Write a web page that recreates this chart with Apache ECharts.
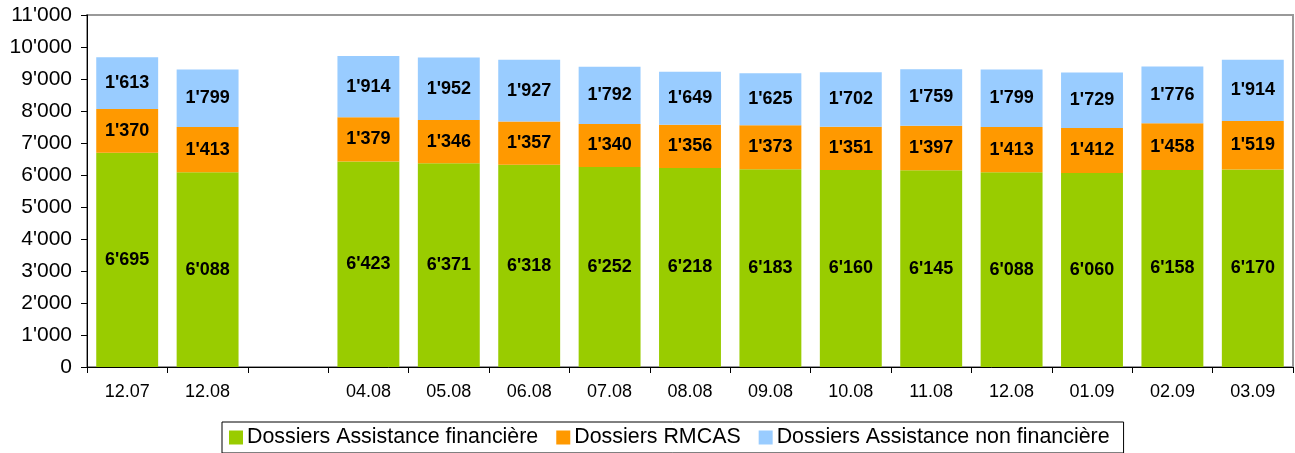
<!DOCTYPE html>
<html>
  <head>
    <meta charset="UTF-8" />
    <title>Dossiers</title>
    <style>
      html,
      body {
        margin: 0;
        padding: 0;
        background: #fff;
      }
      #main {
        width: 1295px;
        height: 453px;
      }
    </style>
    <script src="https://cdn.jsdelivr.net/npm/echarts@6/dist/echarts.min.js"></script>
  </head>
  <body>
    <div id="main"></div>
    <script>
      var categories = ["12.07", "12.08", "", "04.08", "05.08", "06.08", "07.08", "08.08", "09.08", "10.08", "11.08", "12.08", "01.09", "02.09", "03.09"];
      var financiere = [6695, 6088, null, 6423, 6371, 6318, 6252, 6218, 6183, 6160, 6145, 6088, 6060, 6158, 6170];
      var rmcas = [1370, 1413, null, 1379, 1346, 1357, 1340, 1356, 1373, 1351, 1397, 1413, 1412, 1458, 1519];
      var nonFinanciere = [1613, 1799, null, 1914, 1952, 1927, 1792, 1649, 1625, 1702, 1759, 1799, 1729, 1776, 1914];

      function fmt(v) {
        return String(v).replace(/\B(?=(\d{3})+(?!\d))/g, "'");
      }

      var myChart = echarts.init(document.getElementById("main"));

      var label = {
        show: true,
        position: "inside",
        color: "#000",
        fontFamily: "Liberation Sans, Arial",
        fontWeight: "bold",
        fontSize: 18,
        formatter: function (p) {
          return fmt(p.value);
        },
      };

      function bar(name, data, color) {
        return {
          name: name,
          type: "bar",
          stack: "total",
          data: data,
          barCategoryGap: "23%",
          itemStyle: { color: color },
          label: label,
        };
      }

      var option = {
        animation: false,
        textStyle: { fontFamily: "Liberation Sans, Arial" },
        grid: {
          left: 87,
          right: 2,
          top: 15,
          bottom: 86,
          show: true,
          borderColor: "#999",
          borderWidth: 2,
        },
        legend: {
          bottom: 0,
          left: 222,
          itemWidth: 14,
          itemHeight: 14,
          itemGap: 18,
          padding: [5, 14, 5, 7],
          borderColor: "#000",
          borderWidth: 1,
          textStyle: { fontSize: 21.4, color: "#000", padding: [0, 0, 0, -1] },
          icon: "rect",
        },
        xAxis: {
          type: "category",
          data: categories,
          axisLine: { lineStyle: { color: "#000", width: 1 } },
          axisTick: { show: true, length: 6, lineStyle: { color: "#000" } },
          axisLabel: { color: "#000", fontSize: 18, margin: 16 },
        },
        yAxis: {
          type: "value",
          min: 0,
          max: 11000,
          interval: 1000,
          splitLine: { show: false },
          axisLine: { show: true, lineStyle: { color: "#000", width: 1 } },
          axisTick: { show: true, length: 6, inside: false, lineStyle: { color: "#000" } },
          axisLabel: { color: "#000", fontSize: 21, margin: 15, formatter: fmt },
        },
        series: [
          bar("Dossiers Assistance financière", financiere, "#99CC00"),
          bar("Dossiers RMCAS", rmcas, "#FF9900"),
          bar("Dossiers Assistance non financière", nonFinanciere, "#99CCFF"),
        ],
      };

      myChart.setOption(option);
    </script>
  </body>
</html>
